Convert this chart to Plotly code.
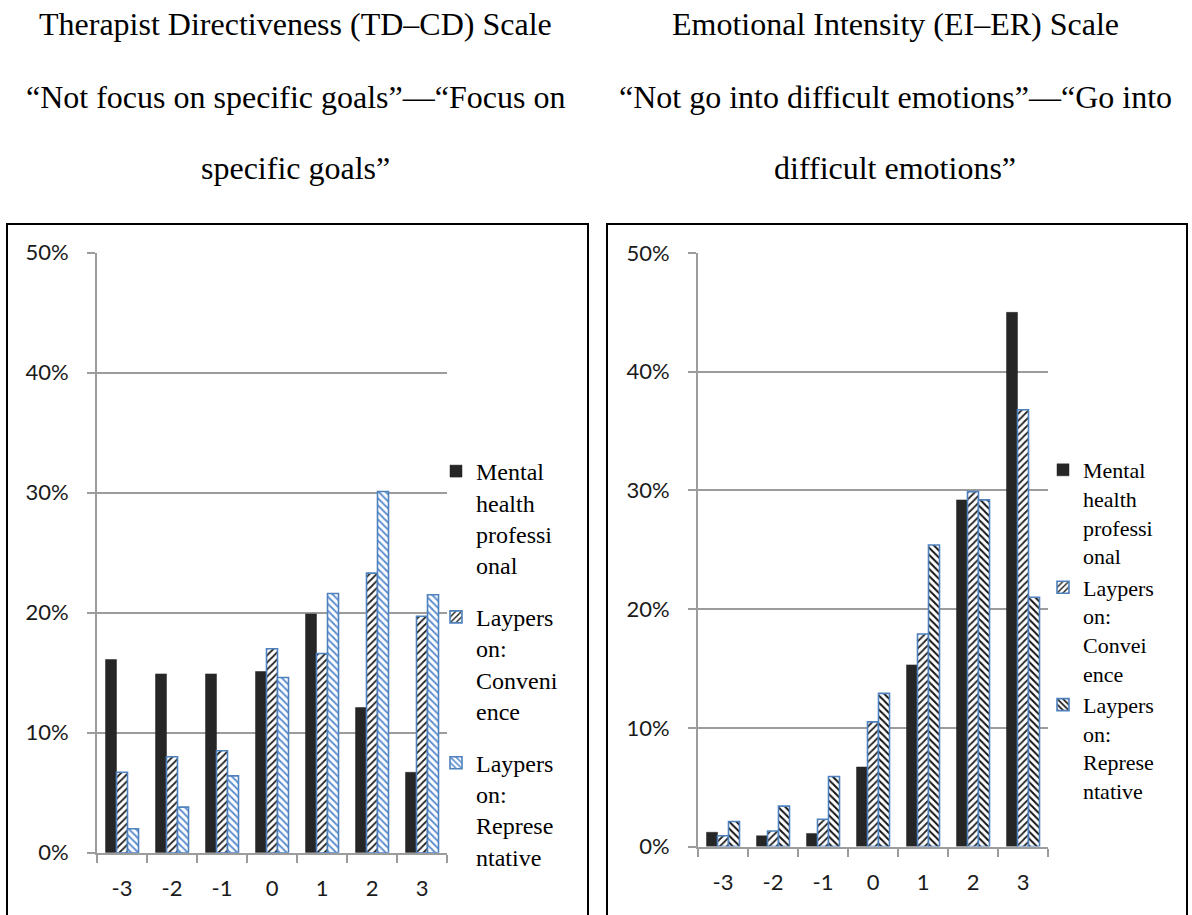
import plotly.graph_objects as go

# ---------------- data ----------------
categories = ["-3", "-2", "-1", "0", "1", "2", "3"]

td_mhp = [0.161, 0.149, 0.149, 0.151, 0.199, 0.121, 0.067]
td_conv = [0.067, 0.080, 0.085, 0.170, 0.166, 0.233, 0.197]
td_rep = [0.020, 0.038, 0.064, 0.146, 0.216, 0.301, 0.215]

ei_mhp = [0.012, 0.009, 0.011, 0.067, 0.153, 0.292, 0.450]
ei_conv = [0.009, 0.013, 0.023, 0.105, 0.179, 0.299, 0.368]
ei_rep = [0.021, 0.034, 0.059, 0.129, 0.254, 0.292, 0.210]

left_names = ["Mental<br>health<br>professi<br>onal",
              "Laypers<br>on:<br>Conveni<br>ence",
              "Laypers<br>on:<br>Represe<br>ntative"]
right_names = ["Mental<br>health<br>professi<br>onal",
               "Laypers<br>on:<br>Convei<br>ence",
               "Laypers<br>on:<br>Represe<br>ntative"]

left_title = ["Therapist Directiveness (TD–CD) Scale",
              "“Not focus on specific goals”—“Focus on",
              "specific goals”"]
right_title = ["Emotional Intensity (EI–ER) Scale",
               "“Not go into difficult emotions”—“Go into",
               "difficult emotions”"]

# ---------------- styling ----------------
W, H = 1192, 915
BLACK_BAR = "#262626"
BLUE_EDGE = "#4f81bd"
PAT_BLUE = "#5f8fcf"
GRID = "#9c9c9c"
SERIF = "Liberation Serif, Times New Roman, serif"
SANS = "Lato, Calibri, sans-serif"


def px_x(v):
    return v / W


def px_y(v):
    return 1 - v / H


fig = go.Figure()


def add_group(xa, ya, legend, names, mhp, conv, rep, rep_color):
    fig.add_trace(go.Bar(
        x=categories, y=mhp, name=names[0], xaxis=xa, yaxis=ya,
        legend=legend, legendgroup=legend + "a",
        marker=dict(color=BLACK_BAR, line=dict(color=BLACK_BAR, width=0.5))))
    fig.add_trace(go.Bar(
        x=categories, y=conv, name=names[1], xaxis=xa, yaxis=ya,
        legend=legend, legendgroup=legend + "b",
        marker=dict(color="white", line=dict(color=BLUE_EDGE, width=1.6),
                    pattern=dict(shape="/", fgcolor="#222222", bgcolor="white",
                                 size=5, solidity=0.35))))
    fig.add_trace(go.Bar(
        x=categories, y=rep, name=names[2], xaxis=xa, yaxis=ya,
        legend=legend, legendgroup=legend + "c",
        marker=dict(color="white", line=dict(color=BLUE_EDGE, width=1.6),
                    pattern=dict(shape="\\", fgcolor=rep_color, bgcolor="white",
                                 size=5, solidity=0.4))))


add_group("x", "y", "legend", left_names, td_mhp, td_conv, td_rep, PAT_BLUE)
add_group("x2", "y2", "legend2", right_names, ei_mhp, ei_conv, ei_rep, "#111111")

xcommon = dict(type="category", showline=True, linecolor=GRID, linewidth=2,
               ticks="outside", tickson="boundaries", ticklen=8, tickcolor=GRID,
               tickwidth=2, showgrid=False, zeroline=False, automargin=False,
               tickfont=dict(family=SANS, size=22, color="#1a1a1a"),
               ticklabelstandoff=15)
ycommon = dict(range=[0, 0.5], dtick=0.1, tickformat=".0%", showline=True,
               linecolor=GRID, linewidth=2, ticks="outside", ticklen=8,
               tickcolor=GRID, tickwidth=2, showgrid=True, gridcolor=GRID,
               gridwidth=2, zeroline=False, automargin=False,
               tickfont=dict(family=SANS, size=22, color="#1a1a1a"),
               ticklabelstandoff=14)

legend_common = dict(xanchor="left", yanchor="top", valign="top",
                     font=dict(family=SERIF, size=24, color="black"),
                     bgcolor="rgba(0,0,0,0)", tracegroupgap=18, itemwidth=30,
                     traceorder="grouped")

TITLE_Y = [24, 97, 168]
annotations = []
for t, yy in zip(left_title, TITLE_Y):
    annotations.append(dict(text=t, x=px_x(295), y=px_y(yy), xref="paper",
                            yref="paper", showarrow=False, xanchor="center",
                            yanchor="middle",
                            font=dict(family=SERIF, size=32, color="black")))
for t, yy in zip(right_title, TITLE_Y):
    annotations.append(dict(text=t, x=px_x(895), y=px_y(yy), xref="paper",
                            yref="paper", showarrow=False, xanchor="center",
                            yanchor="middle",
                            font=dict(family=SERIF, size=32, color="black")))

shapes = [
    dict(type="rect", xref="paper", yref="paper", x0=px_x(7), x1=px_x(588),
         y0=-0.05, y1=px_y(224), line=dict(color="black", width=2),
         fillcolor="rgba(0,0,0,0)", layer="below"),
    dict(type="rect", xref="paper", yref="paper", x0=px_x(607), x1=px_x(1187),
         y0=-0.05, y1=px_y(224), line=dict(color="black", width=2),
         fillcolor="rgba(0,0,0,0)", layer="below"),
]

fig.update_layout(
    template="none",
    width=W, height=H, autosize=False,
    margin=dict(l=0, r=0, t=0, b=0, pad=0),
    paper_bgcolor="white", plot_bgcolor="white",
    barmode="group", bargap=0.34, bargroupgap=0,
    xaxis=dict(domain=[px_x(97), px_x(447)], anchor="y", **xcommon),
    yaxis=dict(domain=[px_y(852.7), px_y(252.7)], anchor="x", **ycommon),
    xaxis2=dict(domain=[px_x(698), px_x(1048)], anchor="y2", **xcommon),
    yaxis2=dict(domain=[px_y(846.5), px_y(253)], anchor="x2", **ycommon),
    legend=dict(x=px_x(436), y=px_y(449), **legend_common),
    legend2=dict(x=px_x(1043), y=px_y(449),
                 **{**legend_common, "font": dict(family=SERIF, size=22, color="black"),
                    "tracegroupgap": 0}),
    annotations=annotations,
    shapes=shapes,
    showlegend=True,
)

post = (
    "document.documentElement.style.margin='0';"
    "document.documentElement.style.padding='0';"
    "document.documentElement.style.overflow='hidden';"
    "document.body.style.margin='0';"
    "document.body.style.padding='0';"
    "document.body.style.overflow='hidden';"
    "var gd=document.getElementsByClassName('plotly-graph-div')[0];"
    "gd.style.position='fixed';gd.style.top='0px';gd.style.left='0px';"
)

fig.write_html("out.html", config={"displayModeBar": False}, post_script=post)
